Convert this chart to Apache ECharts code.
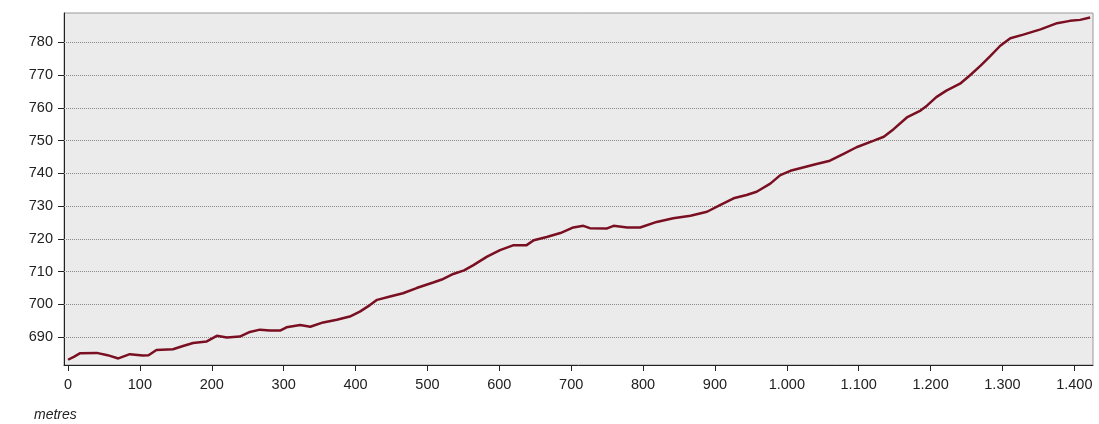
<!DOCTYPE html>
<html>
<head>
<meta charset="utf-8">
<script src="https://cdn.jsdelivr.net/npm/echarts@6/dist/echarts.min.js"></script>
<style>
  html, body { margin: 0; padding: 0; background: #fff; }
  #main { width: 1099px; height: 424px; }
</style>
</head>
<body>
<div id="main"></div>
<script>
// distance along the route (metres) and elevation
var distances = [0, 8, 17, 40, 55, 70, 86, 104, 112, 123, 146, 160, 174, 193, 207, 221, 239, 253, 267, 281,
  295, 304, 323, 337, 355, 374, 392, 406, 420, 430, 448, 466, 485, 508, 520, 536, 551, 564, 583, 601,
  620, 638, 648, 666, 685, 703, 717, 726, 750, 759, 778, 796, 819, 842, 866, 889, 907, 926, 944, 958,
  977, 991, 1005, 1040, 1060, 1079, 1097, 1121, 1135, 1149, 1167, 1186, 1195, 1208, 1222, 1241, 1255, 1270, 1283, 1297,
  1311, 1329, 1353, 1376, 1394, 1408, 1422];
var elevations = [683.1, 684.0, 685.1, 685.2, 684.5, 683.5, 684.8, 684.4, 684.5, 686.1, 686.3, 687.3, 688.2, 688.7, 690.4, 689.9, 690.2, 691.6, 692.3, 692.0,
  692.0, 693.0, 693.7, 693.2, 694.5, 695.3, 696.3, 697.8, 699.8, 701.4, 702.4, 703.4, 705.0, 706.7, 707.6, 709.3, 710.4, 712.0, 714.6, 716.6,
  718.1, 718.1, 719.6, 720.6, 721.8, 723.5, 724.0, 723.3, 723.2, 724.0, 723.5, 723.5, 725.2, 726.3, 727.1, 728.3, 730.3, 732.4, 733.4, 734.4,
  736.9, 739.5, 740.8, 742.8, 743.9, 746.0, 748.0, 750.0, 751.2, 753.6, 757.1, 759.2, 760.7, 763.3, 765.3, 767.4, 770.0, 773.0, 775.8, 779.0,
  781.3, 782.4, 784.0, 785.9, 786.6, 786.9, 787.6];
var xTicks = [0, 100, 200, 300, 400, 500, 600, 700, 800, 900, 1000, 1100, 1200, 1300, 1400];
var yTicks = [690, 700, 710, 720, 730, 740, 750, 760, 770, 780];

var myChart = echarts.init(document.getElementById('main'));

var points = distances.map(function (d, i) { return [d, elevations[i]]; });

// 1.000 style thousands
function fmt(v) {
  return String(v).replace(/\B(?=(\d{3})+(?!\d))/g, '.');
}

var option = {
  animation: false,
  title: {
    text: 'metres',
    left: 29,
    top: 403,
    textStyle: { fontFamily: 'Liberation Sans', fontSize: 14, fontStyle: 'italic', fontWeight: 'normal', color: '#222' }
  },
  grid: {
    left: 64,
    top: 13,
    right: 6,
    bottom: 59,
    show: true,
    backgroundColor: '#ebebeb',
    borderColor: '#999',
    borderWidth: 1
  },
  xAxis: {
    type: 'value',
    min: -5.6,
    max: 1426,
    axisLine: { show: true, onZero: false, lineStyle: { color: '#222', width: 1 } },
    axisTick: { show: true, customValues: xTicks, length: 6, lineStyle: { color: '#222' } },
    axisLabel: {
      customValues: xTicks,
      margin: 12,
      formatter: fmt,
      fontFamily: 'Liberation Sans',
      fontSize: 14.5,
      color: '#222'
    },
    splitLine: { show: false }
  },
  yAxis: {
    type: 'value',
    min: 681.5,
    max: 789,
    axisLine: { show: true, onZero: false, lineStyle: { color: '#222', width: 1 } },
    axisTick: { show: true, customValues: yTicks, length: 6, lineStyle: { color: '#222' } },
    axisLabel: {
      customValues: yTicks,
      margin: 11,
      fontFamily: 'Liberation Sans',
      fontSize: 14.5,
      color: '#222'
    },
    splitLine: { show: false }
  },
  series: [
    {
      type: 'line',
      data: points,
      showSymbol: false,
      symbol: 'none',
      lineStyle: { color: '#7a0f22', width: 2.5 },
      z: 3,
      markLine: {
        silent: true,
        symbol: 'none',
        label: { show: false },
        lineStyle: { color: '#8a8a8a', type: 'dotted', width: 1 },
        data: yTicks.map(function (v) { return { yAxis: v }; }),
        z: 1
      }
    }
  ]
};

option && myChart.setOption(option);
</script>
</body>
</html>
